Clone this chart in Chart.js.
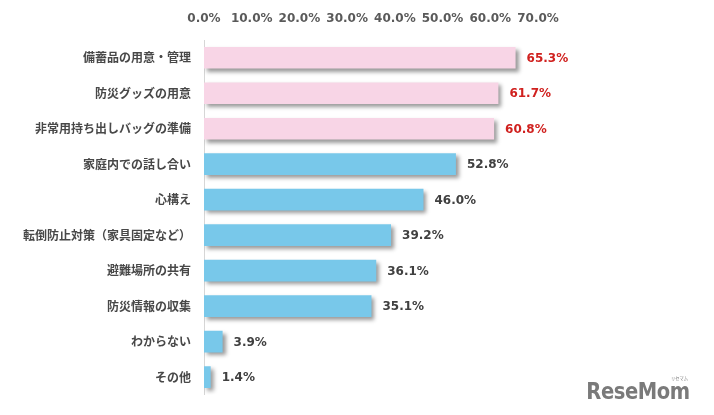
<!DOCTYPE html>
<html lang="ja">
<head>
<meta charset="utf-8">
<title>防災対策</title>
<script src="https://cdn.jsdelivr.net/npm/chart.js@4/dist/chart.umd.min.js"></script>
<style>
  html, body { margin: 0; padding: 0; background: #fff; }
  #wrap { position: relative; width: 714px; height: 415px; }
  #logo {
    position: absolute; right: 24px; bottom: 12px;
    font-family: "DejaVu Sans", sans-serif;
    font-weight: bold; font-size: 23px; line-height: 23px; color: #7a7a7a;
    transform: scaleX(0.85); transform-origin: right bottom; letter-spacing: -0.5px;
  }
  #logo small {
    position: absolute; right: 2px; top: -5px;
    font-family: "Noto Sans CJK JP", sans-serif; font-size: 5px; line-height: 5px;
    font-weight: normal; letter-spacing: 0;
  }
</style>
</head>
<body>
<div id="wrap">
  <canvas id="grafico"></canvas>
  <div id="logo">ReseMom<small>リセマム</small></div>
</div>
<script>
// Datos
const categorias = [
  '備蓄品の用意・管理',
  '防災グッズの用意',
  '非常用持ち出しバッグの準備',
  '家庭内での話し合い',
  '心構え',
  '転倒防止対策（家具固定など）',
  '避難場所の共有',
  '防災情報の収集',
  'わからない',
  'その他'
];
const valores = [65.3, 61.7, 60.8, 52.8, 46.0, 39.2, 36.1, 35.1, 3.9, 1.4];
const ticksX = [0, 10, 20, 30, 40, 50, 60, 70];
const destacados = 3; // las tres primeras barras van en rosa

const ROSA = '#f8d5e6';
const AZUL = '#78c8ea';
const fuenteNum = '"DejaVu Sans", Verdana, sans-serif';
const fuenteJa = '"Noto Sans CJK JP", sans-serif';

// Sombra debajo de las barras
const sombraBarras = {
  id: 'sombraBarras',
  beforeDatasetsDraw(chart) {
    const ctx = chart.ctx;
    ctx.save();
    ctx.shadowColor = 'rgba(0,0,0,0.4)';
    ctx.shadowBlur = 4;
    ctx.shadowOffsetX = 3;
    ctx.shadowOffsetY = 3;
  },
  afterDatasetsDraw(chart) {
    chart.ctx.restore();
  }
};

// Etiquetas de valor al final de cada barra
const etiquetasValor = {
  id: 'etiquetasValor',
  afterDraw(chart) {
    const ctx = chart.ctx;
    const meta = chart.getDatasetMeta(0);
    ctx.save();
    ctx.font = 'bold 12px ' + fuenteNum;
    ctx.textBaseline = 'middle';
    ctx.textAlign = 'left';
    meta.data.forEach((bar, i) => {
      ctx.fillStyle = i < destacados ? '#d0211f' : '#404040';
      ctx.fillText(valores[i].toFixed(1) + '%', bar.x + 11, bar.y + 1);
    });
    ctx.restore();
  }
};

function crearGrafico() {
  const ctx = document.getElementById('grafico').getContext('2d');
  new Chart(ctx, {
    type: 'bar',
    data: {
      labels: categorias,
      datasets: [{
        data: valores,
        backgroundColor: valores.map((v, i) => i < destacados ? ROSA : AZUL),
        borderWidth: 0,
        barPercentage: 0.61,
        categoryPercentage: 1
      }]
    },
    options: {
      indexAxis: 'y',
      responsive: true,
      maintainAspectRatio: false,
      animation: false,
      layout: { padding: { left: 0, right: 176, top: 0, bottom: 12 } },
      plugins: {
        legend: { display: false },
        tooltip: { enabled: false }
      },
      scales: {
        x: {
          position: 'top',
          min: ticksX[0],
          max: ticksX[ticksX.length - 1],
          afterBuildTicks: s => { s.ticks = ticksX.map(v => ({ value: v })); },
          afterFit: s => { s.height = 40; },
          grid: { display: false, drawTicks: false },
          border: { display: false },
          ticks: {
            padding: 14,
            color: '#5a5a5a',
            font: { family: fuenteNum, size: 12, weight: 'bold' },
            callback: v => Number(v).toFixed(1) + '%'
          }
        },
        y: {
          afterFit: s => { s.width = 204; },
          grid: { display: false, drawTicks: false },
          border: { display: true, color: '#d6d6d6', width: 1 },
          ticks: {
            padding: 13,
            color: '#484848',
            font: { family: fuenteJa, size: 12, weight: 'bold' }
          }
        }
      }
    },
    plugins: [sombraBarras, etiquetasValor]
  });
}

crearGrafico();
</script>
</body>
</html>
